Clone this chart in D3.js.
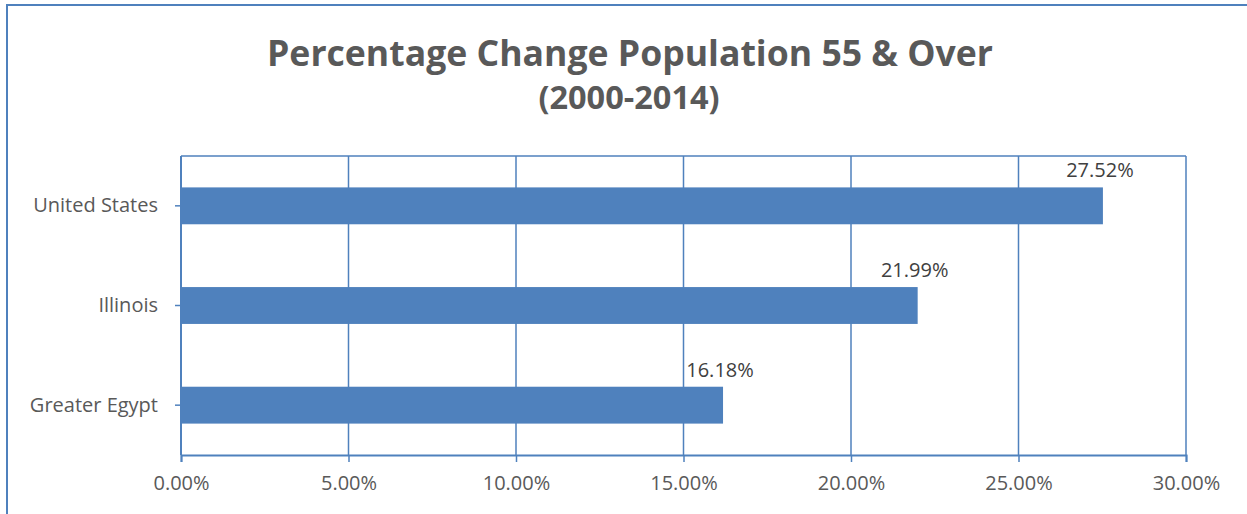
<!DOCTYPE html>
<html>
<head>
<meta charset="utf-8">
<script src="https://cdn.jsdelivr.net/npm/d3@7"></script>
<style>
  body { margin: 0; background: #fff; }
  text { font-family: "Open Sans", sans-serif; }
</style>
</head>
<body>
<div id="chart"></div>
<script>
var categories = ["United States", "Illinois", "Greater Egypt"];
var values = [27.52, 21.99, 16.18];
var xTicks = [0, 5, 10, 15, 20, 25, 30];
var titleText = "Percentage Change Population 55 & Over";
var subtitleText = "(2000-2014)";

var W = 1247, H = 514;
var margin = {top: 156, right: 61, bottom: 59, left: 181},
    width = W - margin.left - margin.right,
    height = H - margin.top - margin.bottom;

var blue = "#4f81bd";

var root = d3.select("#chart")
  .append("svg")
    .attr("width", W)
    .attr("height", H);

// outer chart border (runs off the right and bottom edge)
root.append("rect")
  .attr("x", 7)
  .attr("y", 5)
  .attr("width", 1270)
  .attr("height", 540)
  .attr("fill", "none")
  .attr("stroke", blue)
  .attr("stroke-width", 2);

root.append("text")
  .attr("x", 630)
  .attr("y", 66)
  .attr("text-anchor", "middle")
  .style("font-size", "35.6px")
  .style("font-weight", "bold")
  .style("fill", "#595959")
  .text(titleText);

root.append("text")
  .attr("x", 629)
  .attr("y", 109)
  .attr("text-anchor", "middle")
  .style("font-size", "32.5px")
  .style("font-weight", "bold")
  .style("fill", "#595959")
  .text(subtitleText);

var svg = root.append("g")
  .attr("transform", "translate(" + margin.left + "," + margin.top + ")");

var x = d3.scaleLinear()
  .domain([0, 30])
  .range([0, width]);

var y = d3.scaleBand()
  .domain(categories)
  .range([0, height])
  .paddingInner(0.63)
  .paddingOuter(0.315);

// vertical gridlines
svg.append("g")
  .selectAll("line")
  .data(xTicks)
  .join("line")
    .attr("x1", d => x(d))
    .attr("x2", d => x(d))
    .attr("y1", 0)
    .attr("y2", height)
    .attr("stroke", blue)
    .attr("stroke-width", 1.5);

// plot area top border
svg.append("line")
  .attr("x1", 0).attr("x2", width)
  .attr("y1", 0).attr("y2", 0)
  .attr("stroke", blue)
  .attr("stroke-width", 1.5);

// bars
svg.selectAll(".bar")
  .data(values)
  .join("rect")
    .attr("class", "bar")
    .attr("x", x(0))
    .attr("y", (d, i) => y(categories[i]))
    .attr("width", d => x(d) - x(0))
    .attr("height", y.bandwidth())
    .style("fill", blue);

// data labels
svg.selectAll(".label")
  .data(values)
  .join("text")
    .attr("class", "label")
    .attr("x", d => x(d) - 3)
    .attr("y", (d, i) => y(categories[i]) - 10)
    .attr("text-anchor", "middle")
    .style("font-size", "20px")
    .style("fill", "#404040")
    .text(d => d.toFixed(2) + "%");

// x axis
var xAxis = svg.append("g")
  .attr("transform", "translate(0," + height + ")")
  .call(d3.axisBottom(x).tickValues(xTicks).tickSize(7).tickPadding(14)
    .tickFormat(d => d.toFixed(2) + "%"));
xAxis.select(".domain").attr("stroke", blue).attr("stroke-width", 2);
xAxis.selectAll(".tick line").attr("stroke", blue).attr("stroke-width", 1.5);
xAxis.selectAll(".tick text")
  .style("font-size", "20px")
  .style("font-family", "'Open Sans', sans-serif")
  .style("fill", "#595959");

// y axis, ticks at the middle of each bar
var yAxis = svg.append("g")
  .attr("transform", "translate(0," + (y.bandwidth() / 2) + ")")
  .call(d3.axisLeft(y).tickSize(6).tickPadding(17).offset(0));
yAxis.selectAll(".tick").attr("transform", d => "translate(0," + y(d) + ")");
yAxis.select(".domain").remove();
svg.append("line")
  .attr("x1", 0).attr("x2", 0)
  .attr("y1", 0).attr("y2", height)
  .attr("stroke", blue)
  .attr("stroke-width", 2);
yAxis.selectAll(".tick line").attr("stroke", blue).attr("stroke-width", 1.5);
yAxis.selectAll(".tick text")
  .style("font-size", "20px")
  .style("font-family", "'Open Sans', sans-serif")
  .style("fill", "#595959");
</script>
</body>
</html>
